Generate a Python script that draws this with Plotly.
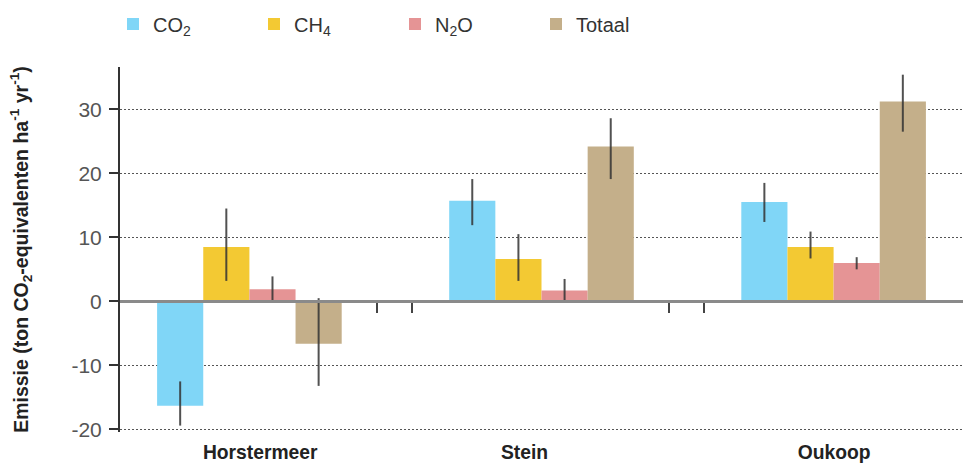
import plotly.graph_objects as go

# ---- data ----
sites = ["Horstermeer", "Stein", "Oukoop"]
series_names = ["CO<sub>2</sub>", "CH<sub>4</sub>", "N<sub>2</sub>O", "Totaal"]
series_colors = ["#80D6F7", "#F3C933", "#E59495", "#C4AF8A"]

co2 = [-16.3, 15.7, 15.5]
ch4 = [8.5, 6.6, 8.5]
n2o = [1.9, 1.7, 6.0]
totaal = [-6.6, 24.2, 31.2]

co2_err_plus = [3.8, 3.4, 3.0]
co2_err_minus = [3.1, 3.8, 3.1]
ch4_err_plus = [6.0, 3.9, 2.4]
ch4_err_minus = [5.3, 3.4, 1.8]
n2o_err_plus = [2.0, 1.8, 0.9]
n2o_err_minus = [1.9, 1.7, 1.0]
totaal_err_plus = [7.1, 4.4, 4.2]
totaal_err_minus = [6.6, 5.1, 4.7]

y_ticks = [-20, -10, 0, 10, 20, 30]
y_ticktext = ["-20", "-10", "0", "10", "20", "30"]
y_range = [-20.4, 36.6]
x_range = [-0.443, 2.443]
separator_ticks = [0.436, 0.558, 1.437, 1.557]
site_label_pos = [0.037, 0.942, 2.002]

values = [co2, ch4, n2o, totaal]
err_plus = [co2_err_plus, ch4_err_plus, n2o_err_plus, totaal_err_plus]
err_minus = [co2_err_minus, ch4_err_minus, n2o_err_minus, totaal_err_minus]

x_pos = list(range(len(sites)))

FONT = "Liberation Sans, Arial, sans-serif"

fig = go.Figure()
for name, col, vals, ep, em in zip(series_names, series_colors, values, err_plus, err_minus):
    fig.add_trace(go.Bar(
        x=x_pos, y=vals, name=name,
        marker=dict(color=col, line=dict(width=0)),
        error_y=dict(type="data", symmetric=False, array=ep, arrayminus=em,
                     color="rgba(50,50,50,0.85)", thickness=2, width=0),
    ))

# invisible helper so the zero-line axis is drawn
fig.add_trace(go.Scatter(x=[], y=[], xaxis="x2", yaxis="y", showlegend=False, hoverinfo="skip"))

zero_pos = (0 - y_range[0]) / (y_range[1] - y_range[0])

fig.update_layout(
    width=964, height=467,
    margin=dict(l=120, r=1, t=67, b=35, autoexpand=False),
    paper_bgcolor="white", plot_bgcolor="white",
    barmode="group", bargap=0.368, bargroupgap=0,
    font=dict(family=FONT, color="#333"),
    legend=dict(orientation="h", x=113 / 964, xref="container", xanchor="left",
                y=1 - 24 / 467, yref="container", yanchor="middle",
                font=dict(size=20, color="#333"),
                entrywidth=96, entrywidthmode="pixels",
                traceorder="normal"),
    xaxis=dict(range=x_range, tickvals=site_label_pos, automargin=False,
               ticktext=["<b>%s</b>" % s for s in sites],
               tickfont=dict(size=19.3, color="#222"),
               ticklabelstandoff=7,
               showline=False, showgrid=False, zeroline=False, ticks=""),
    xaxis2=dict(overlaying="x", anchor="free", position=zero_pos, side="bottom",
                range=x_range, tickvals=separator_ticks, showticklabels=False,
                showline=True, linecolor="#8a8a8a", linewidth=2.5, automargin=False,
                ticks="outside", ticklen=10, tickwidth=1.5, tickcolor="#444",
                showgrid=False, zeroline=False),
    yaxis=dict(range=y_range, tickvals=y_ticks, ticktext=y_ticktext, automargin=False,
               tickfont=dict(size=21, color="#555"),
               showline=True, linecolor="#333", linewidth=2,
               ticks="outside", ticklen=9, tickwidth=1.5, tickcolor="#333",
               ticklabelstandoff=3,
               showgrid=True, gridcolor="#555", gridwidth=1.3, griddash="1.5px,2.5px",
               zeroline=False,
               title=dict(text="<b>Emissie (ton CO<sub>2</sub>-equivalenten ha<sup>-1</sup> yr<sup>-1</sup>)</b>",
                          font=dict(size=19.5, color="#222"), standoff=38)),
)

fig.write_html("out.html", config={"displayModeBar": False},
               post_script="document.body.style.margin='0px';")
